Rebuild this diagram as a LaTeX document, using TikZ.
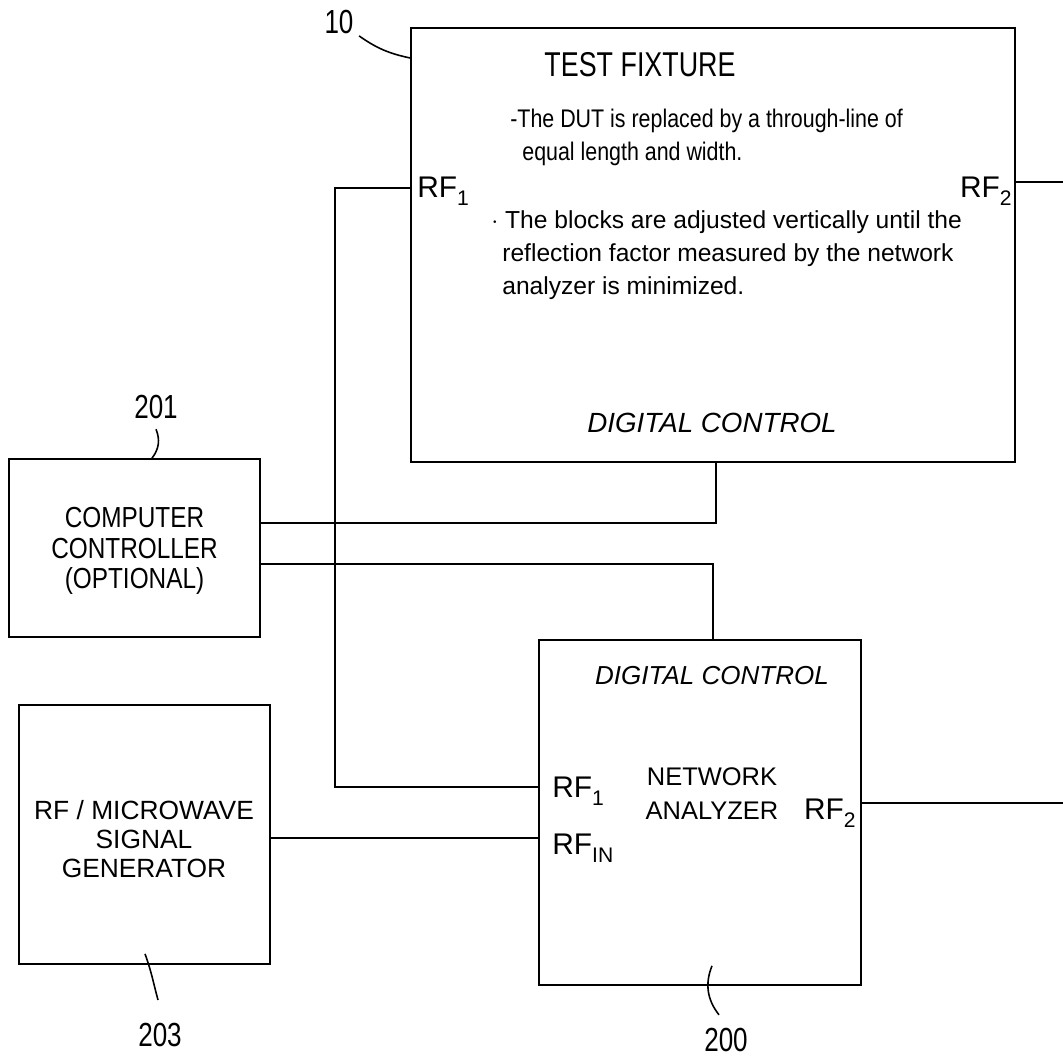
\documentclass[tikz,border=0pt]{standalone}
\usepackage{fontspec}
\setmainfont{Liberation Sans}
\newfontfamily\condf{Liberation Sans}[FakeStretch=0.84]
\newfontfamily\titlef{Liberation Sans}[FakeStretch=0.78]
\usetikzlibrary{positioning}
\newcommand{\portsub}[1]{\raisebox{-0.5ex}{\fontsize{12}{12}\selectfont #1}}

\tikzset{
  blk/.style={draw, line width=1pt, rectangle, inner sep=0pt},
  wire/.style={line width=1pt},
  lead/.style={line width=0.9pt},
  bodytxt/.style={anchor=base west, inner sep=0pt, font=\fontsize{14}{17}\selectfont},
  narrowtxt/.style={anchor=base west, inner sep=0pt, font=\condf\fontsize{14.5}{17}\selectfont},
  porttxt/.style={inner sep=0pt, font=\fontsize{17}{17}\selectfont},
  refnum/.style={inner sep=0pt, font=\titlef\fontsize{19}{19}\selectfont},
}

\begin{document}
\begin{tikzpicture}[x=0.02cm,y=-0.02cm]
			\useasboundingbox (0,0) rectangle (1063,1057);
			% blocks
			\node[blk, minimum width=12.08cm, minimum height=8.68cm] (fix) at (713,245) {};
			\node[blk, minimum width=5.02cm, minimum height=3.56cm] (ctrl) at (134.5,548) {};
			\node[blk, minimum width=6.44cm, minimum height=6.9cm] (na) at (700,812.5) {};
			\node[blk, minimum width=5.02cm, minimum height=5.18cm] (gen) at (144.5,834.5) {};
			% test fixture texts
			\node[anchor=base, inner sep=0pt, font=\titlef\fontsize{19.6}{20}\selectfont] (fixtitle) at (640,77) {TEST FIXTURE};
			\node[narrowtxt] (note1) at (510,128) {-The DUT is replaced by a through-line of};
			\node[narrowtxt] (note2) at (522,161) {equal length and width.};
			\node[bodytxt] (note3) at (491,229) {$\cdot$ The blocks are adjusted vertically until the};
			\node[bodytxt] (note4) at (502,262) {reflection factor measured by the network};
			\node[bodytxt] (note5) at (502,295) {analyzer is minimized.};
			\node[porttxt, anchor=base west] (fRF1) at (417,198) {RF\portsub{1}};
			\node[porttxt, anchor=base east] (fRF2) at (1012,198) {RF\portsub{2}};
			\node[anchor=base, inner sep=0pt, font=\itshape\fontsize{15.8}{16}\selectfont] (fixdig) at (712,433) {DIGITAL CONTROL};
			% network analyzer texts
			\node[anchor=base, inner sep=0pt, font=\itshape\fontsize{14.8}{15}\selectfont] (nadig) at (712,685) {DIGITAL CONTROL};
			\node[anchor=base, inner sep=0pt, font=\fontsize{14.5}{15}\selectfont] (natitle) at (712,786) {NETWORK};
			\node[anchor=base, inner sep=0pt, font=\fontsize{14.5}{15}\selectfont] (natitle2) at (712,820) {ANALYZER};
			\node[porttxt, anchor=base west] (nRF1) at (552,798) {RF\portsub{1}};
			\node[porttxt, anchor=base west] (nRFin) at (552,855) {RF\portsub{IN}};
			\node[porttxt, anchor=base east] (nRF2) at (856,820) {RF\portsub{2}};
			% other boxes
			\node[align=center, inner sep=0pt, font=\condf\fontsize{16.5}{17.5}\selectfont] (ctrltxt) at (134.5,551) {COMPUTER\\CONTROLLER\\(OPTIONAL)};
			\node[align=center, inner sep=0pt, font=\fontsize{15}{16.5}\selectfont] (gentxt) at (144,839) {RF / MICROWAVE\\SIGNAL\\GENERATOR};
			% reference numerals
			\node[refnum] (n10) at (339,22) {10};
			\node[refnum] (n201) at (156,407) {201};
			\node[refnum] (n203) at (160,1035) {203};
			\node[refnum] (n200) at (726,1040) {200};
			\coordinate (t203) at (158,1000);
			\draw[lead] ([xshift=3pt,yshift=-1pt]n10.south east) to[out=-35,in=168] (fix.west |- 0,58);
			\draw[lead] ([yshift=-0.2cm]n201.south) to[bend left=30] (ctrl.north -| 152,0);
			\draw[lead] (gen.south -| 145,0) ++(0,-11) to[out=-70,in=105] (t203);
			\draw[lead] (na.south -| 712,0) ++(0,-20) to[bend right=30] ++(7,49);
			% connections
			\draw[wire] (fix.west |- 0,188) -| (335,787) -- (na.west |- 0,787);
			\draw[wire] (fix.east |- 0,182) -- (1063,182);
			\draw[wire] (ctrl.east |- 0,523) -| (fix.south -| 716,0);
			\draw[wire] (ctrl.east |- 0,564) -| (na.north -| 713,0);
			\draw[wire] (gen.east |- 0,838) -- (na.west |- 0,838);
			\draw[wire] (na.east |- 0,803) -- (1063,803);
		\end{tikzpicture}
\end{document}
